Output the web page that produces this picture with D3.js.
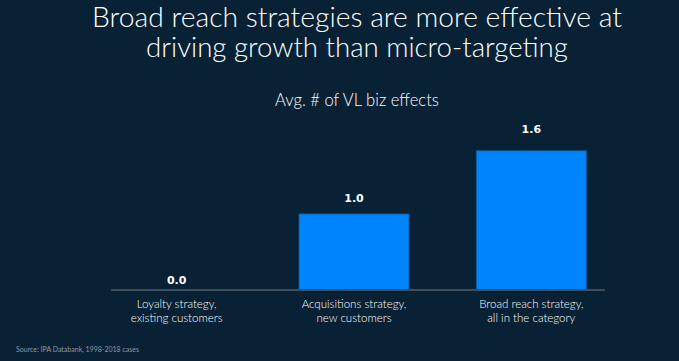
<!DOCTYPE html>
<html>
<head>
<meta charset="utf-8">
<script src="https://cdn.jsdelivr.net/npm/d3@7"></script>
<style>
  html,body{margin:0;padding:0;background:#082135;}
  svg{display:block;}
</style>
</head>
<body>
<svg width="679" height="361"></svg>
<script>
const titleLines=['Broad reach strategies are more effective at','driving growth than micro-targeting'];
const subTitle='Avg. # of VL biz effects';
const categories=['Loyalty','Acquisitions','Broad reach'];
const catLabels=[['Loyalty strategy,','existing customers'],['Acquisitions strategy,','new customers'],['Broad reach strategy,','all in the category']];
const values=[0.0,0.95,1.74];
const valueLabels=['0.0','1.0','1.6'];
const source='Source: IPA Databank, 1998-2018 cases';

const svg=d3.select('svg');
const width=+svg.attr('width');
const height=+svg.attr('height');
const font='Lato,"Open Sans",sans-serif';

svg.append('rect').attr('width',width).attr('height',height).attr('fill','#082135');

// shrink/grow a text to a given width
const fit=(sel,w)=>{
  const cur=sel.node().getComputedTextLength();
  const fs=parseFloat(sel.attr('font-size'));
  sel.attr('font-size',fs*w/cur);
};

/* titles */
const tTop=[27,57];
const tWidth=[530,422];
titleLines.forEach((t,i)=>{
  const txt=svg.append('text')
    .attr('x',357).attr('y',tTop[i])
    .attr('text-anchor','middle')
    .attr('fill','#ffffff')
    .attr('font-family',font)
    .attr('font-weight',300)
    .attr('font-size',26)
    .text(t);
  fit(txt,tWidth[i]);
});
fit(svg.append('text')
  .attr('x',357).attr('y',106)
  .attr('text-anchor','middle')
  .attr('fill','#ffffff')
  .attr('font-family',font)
  .attr('font-weight',300)
  .attr('font-size',14)
  .text(subTitle),164);

/* scales */
const x=d3.scaleBand()
  .domain(categories)
  .range([88,620])
  .paddingInner(0.38)
  .paddingOuter(0.19);
const y=d3.scaleLinear()
  .domain([0,2])
  .range([290,130]);

/* bars */
svg.selectAll('.bar')
  .data(values)
  .enter()
  .append('rect')
  .attr('class','bar')
  .attr('x',(d,i)=>x(categories[i]))
  .attr('y',d=>y(d))
  .attr('width',x.bandwidth())
  .attr('height',d=>y(0)-y(d))
  .attr('fill','#0084fb')
  .attr('stroke',d=>d>0?'#0b5fa5':'none')
  .attr('stroke-width',0.8);

// axis line
const xAxis=d3.axisBottom(x).tickSize(0).tickFormat('');
svg.append('g')
  .attr('transform',`translate(0,${y(0)})`)
  .call(xAxis)
  .call(g=>g.select('.domain')
     .attr('d','M111,0H605')
     .attr('stroke','#3f4d5a')
     .attr('stroke-width',2));

/* value labels */
svg.selectAll('.val')
  .data(values)
  .enter()
  .append('text')
  .attr('class','val')
  .attr('x',(d,i)=>x(categories[i])+x.bandwidth()/2)
  .attr('y',d=>y(d)-6-6.5*d)
  .attr('text-anchor','middle')
  .attr('fill','#ffffff')
  .attr('font-family','"DejaVu Sans",Verdana,sans-serif')
  .attr('font-weight','bold')
  .attr('font-size',11)
  .text((d,i)=>valueLabels[i]);

/* category labels */
const cl=svg.selectAll('.cat')
  .data(catLabels)
  .enter()
  .append('text')
  .attr('class','cat')
  .attr('text-anchor','middle')
  .attr('fill','#ffffff')
  .attr('font-family',font)
  .attr('font-weight',300)
  .attr('font-size',11.5);
cl.selectAll('tspan')
  .data((d,i)=>d.map(s=>({s,i})))
  .enter()
  .append('tspan')
  .attr('x',d=>x(categories[d.i])+x.bandwidth()/2)
  .attr('y',(d,j)=>308+j*14)
  .text(d=>d.s);

/* source */
svg.append('text')
  .attr('x',16).attr('y',352)
  .attr('fill','#8c9aa7')
  .attr('font-family',font)
  .attr('font-size',7)
  .text(source);
</script>
</body>
</html>
